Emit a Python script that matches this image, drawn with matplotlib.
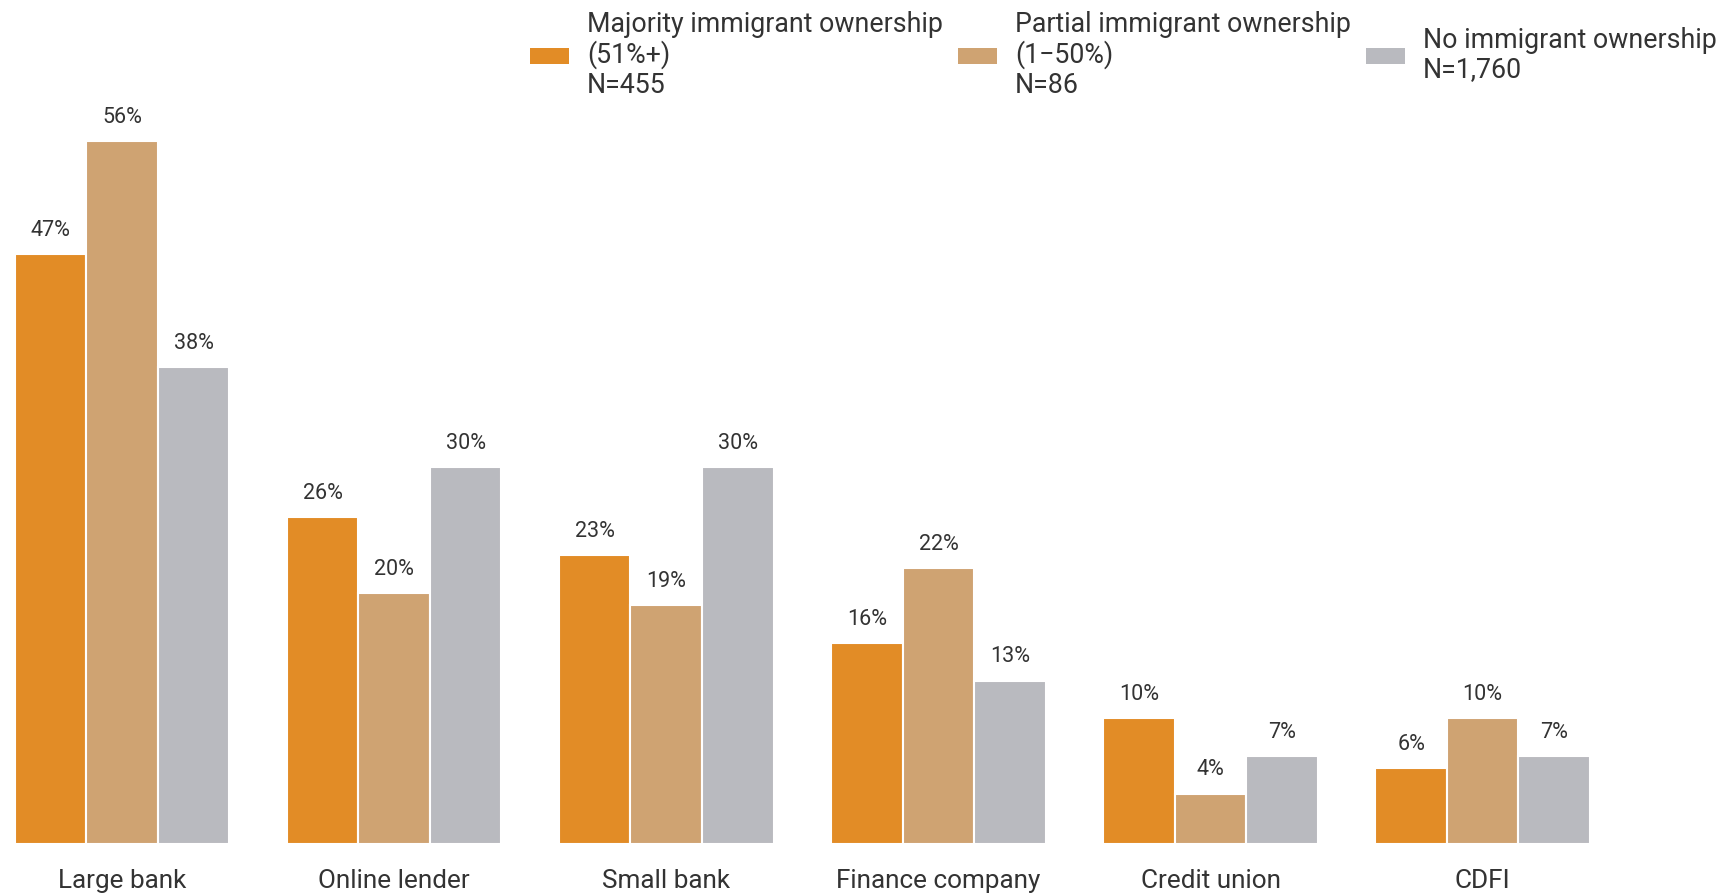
import numpy as np
import matplotlib.pyplot as plt
from matplotlib.patches import Patch

plt.rcParams['font.family'] = ['Roboto', 'DejaVu Sans']

categories = ["Large bank", "Online lender", "Small bank",
              "Finance company", "Credit union", "CDFI"]
majority = [47, 26, 23, 16, 10, 6]
partial = [56, 20, 19, 22, 4, 10]
none_own = [38, 30, 30, 13, 7, 7]

series = [majority, partial, none_own]
labels = ["Majority immigrant ownership\n(51%+)\nN=455",
          "Partial immigrant ownership\n(1\u221250%)\nN=86",
          "No immigrant ownership\nN=1,760"]
colors = ["#E28C26", "#CFA372", "#B9BABF"]
text_color = "#333333"

fig = plt.figure(figsize=(17.27, 8.93), dpi=100)
ax = fig.add_axes([0, 49.3 / 893, 1, 753 / 893])

x = np.arange(len(categories))
w = 0.263
for i, (vals, c) in enumerate(zip(series, colors)):
    pos = x + (i - 1) * w
    bars = ax.bar(pos, vals, width=w, color=c, edgecolor="white", linewidth=1.5)
    for b, v in zip(bars, vals):
        ax.annotate(f"{v}%", (b.get_x() + b.get_width() / 2, v),
                    xytext=(0, 13), textcoords="offset points",
                    ha="center", va="baseline", fontsize=15.5, color=text_color)

ax.set_xlim(-0.4484, 5.898)
ax.set_ylim(0, 60)
ax.set_xticks(x)
ax.set_xticklabels(categories, fontsize=18.8, color=text_color)
ax.tick_params(axis="x", length=0, pad=18.5)
ax.set_yticks([])
for s in ax.spines.values():
    s.set_visible(False)

handles = [Patch(facecolor=c, edgecolor="none") for c in colors]
leg = fig.legend(handles, labels, ncol=3, loc="upper right",
                 bbox_to_anchor=(1.0, 1.0), frameon=False,
                 fontsize=19.3, handlelength=1.45, handleheight=0.53,
                 handletextpad=0.67, columnspacing=0.56, borderaxespad=0.0,
                 labelcolor=text_color)
for t in leg.get_texts():
    t.set_linespacing(1.13)

fig.savefig("out.png", dpi=100)
